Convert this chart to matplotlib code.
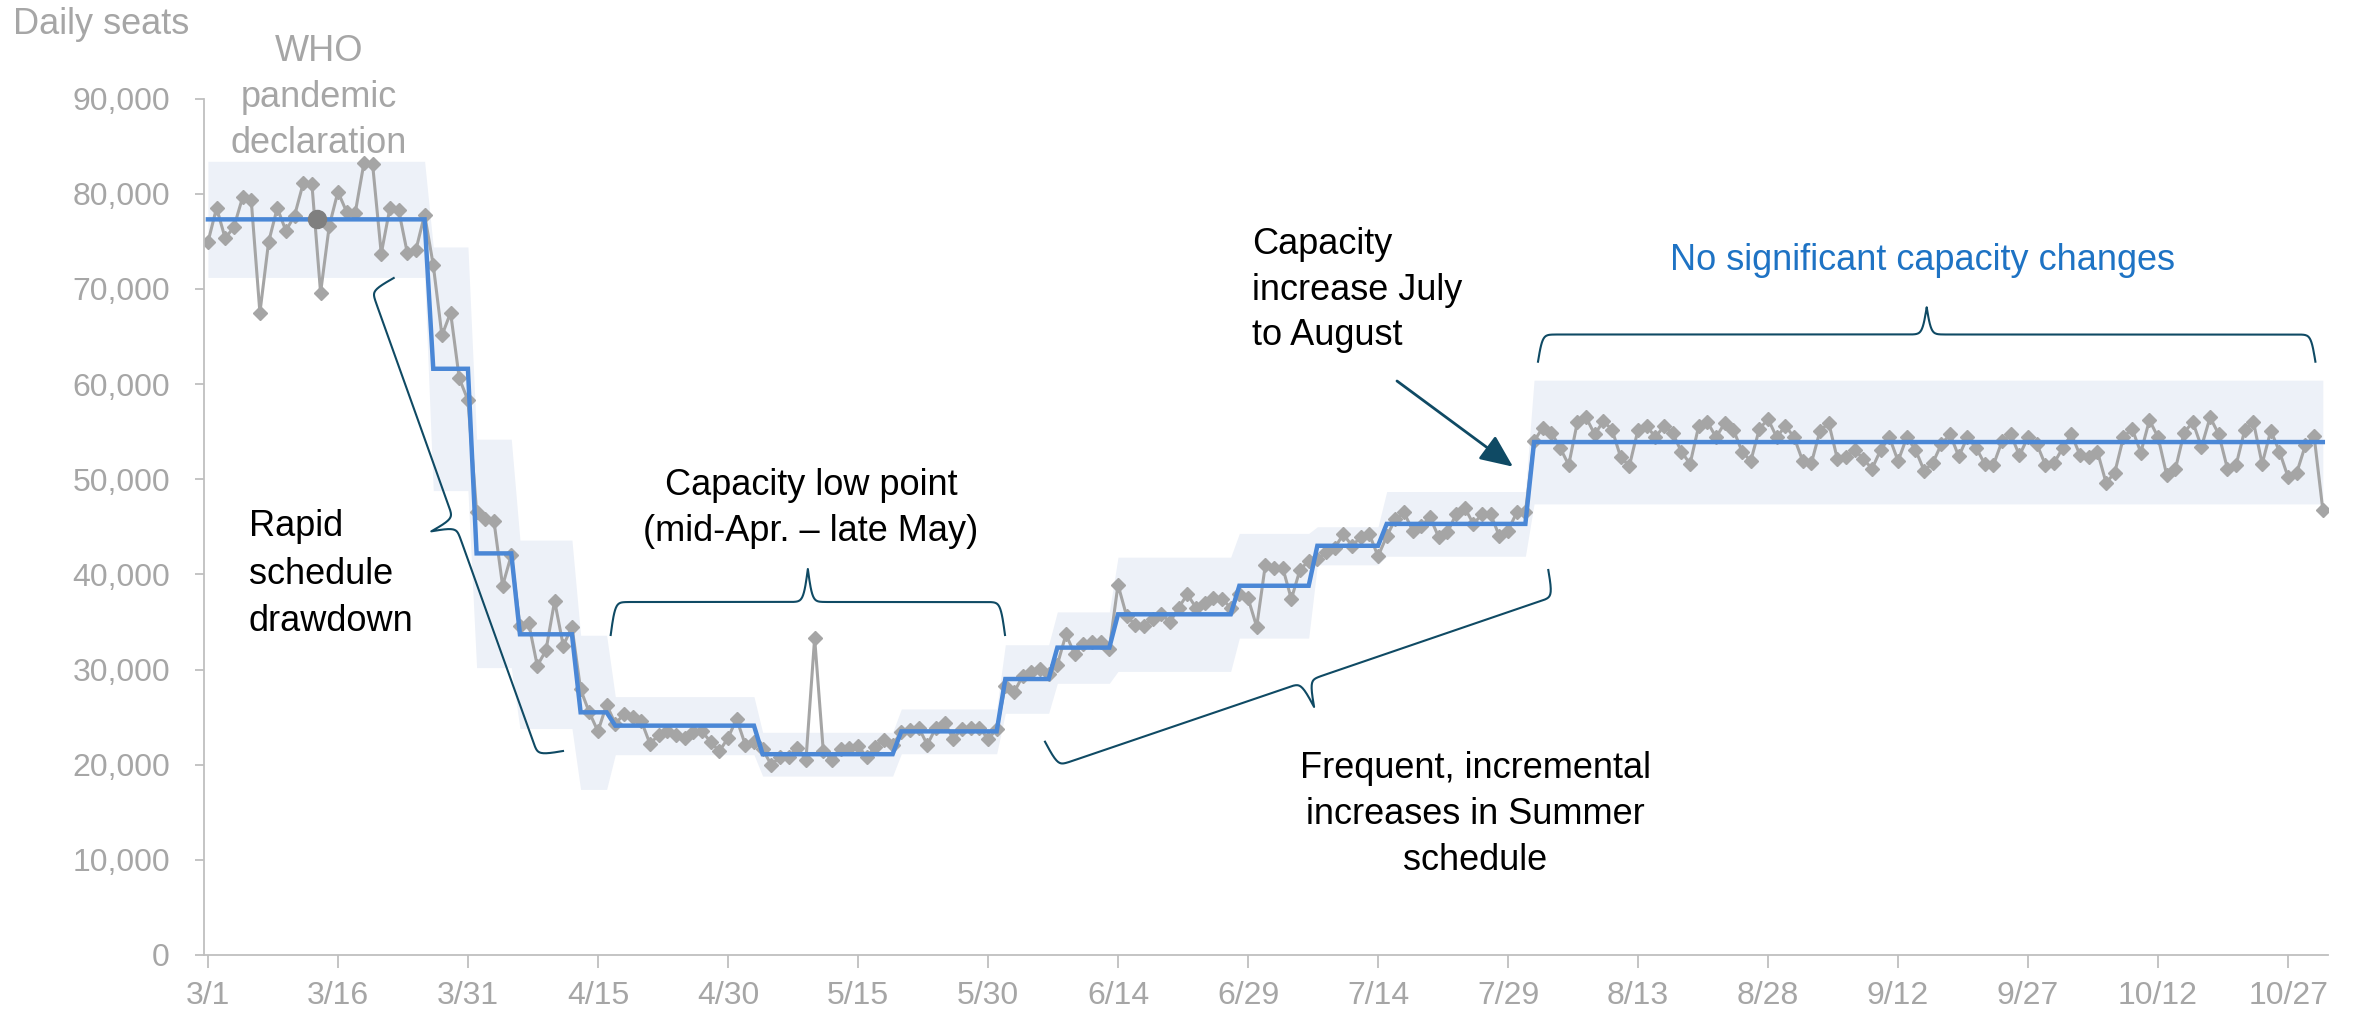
import numpy as np
import matplotlib.pyplot as plt
from matplotlib import font_manager
from matplotlib.lines import Line2D
from matplotlib.patches import FancyArrowPatch

# daily seats (thousands), 3/1 .. 10/31
seats_k = [
    74.9, 78.5, 75.3, 76.5, 79.6, 79.3, 67.5, 74.9, 78.5, 76.1,
    77.7, 81.1, 81.0, 69.6, 76.6, 80.2, 78.1, 78.0, 83.2, 83.1,
    73.7, 78.5, 78.3, 73.8, 74.1, 77.8, 72.5, 65.1, 67.5, 60.6,
    58.3, 46.6, 45.8, 45.6, 38.8, 42.0, 34.6, 34.9, 30.4, 32.0,
    37.2, 32.5, 34.5, 27.9, 25.5, 23.5, 26.3, 24.3, 25.3, 25.0,
    24.6, 22.2, 23.1, 23.5, 23.1, 22.8, 23.4, 23.5, 22.4, 21.4,
    22.8, 24.8, 22.1, 22.4, 21.6, 20.0, 20.8, 20.8, 21.8, 20.5,
    33.3, 21.4, 20.5, 21.6, 21.8, 22.0, 20.8, 21.9, 22.6, 22.1,
    23.4, 23.6, 23.9, 22.1, 23.9, 24.4, 22.7, 23.8, 23.9, 23.9,
    22.7, 23.7, 28.3, 27.6, 29.3, 29.7, 30.1, 29.5, 30.5, 33.7,
    31.6, 32.7, 32.9, 32.9, 32.2, 38.9, 35.6, 34.7, 34.6, 35.3,
    35.8, 35.0, 36.5, 37.9, 36.5, 37.0, 37.5, 37.4, 36.5, 37.9,
    37.5, 34.5, 41.0, 40.7, 40.7, 37.4, 40.5, 41.4, 41.6, 42.3,
    42.8, 44.2, 43.0, 43.9, 44.2, 41.9, 44.0, 45.8, 46.5, 44.6,
    45.1, 46.0, 43.9, 44.4, 46.3, 47.0, 45.3, 46.3, 46.3, 44.0,
    44.6, 46.5, 46.5, 54.0, 55.4, 54.9, 53.3, 51.5, 56.0, 56.5,
    54.7, 56.1, 55.2, 52.3, 51.4, 55.2, 55.6, 54.4, 55.6, 54.8,
    52.9, 51.6, 55.6, 56.0, 54.4, 55.9, 55.2, 52.9, 51.9, 55.3,
    56.3, 54.4, 55.6, 54.4, 51.9, 51.7, 55.1, 55.9, 52.1, 52.3,
    53.1, 52.1, 51.1, 53.1, 54.4, 51.9, 54.4, 53.1, 50.9, 51.7,
    53.7, 54.7, 52.4, 54.4, 53.3, 51.6, 51.5, 54.0, 54.7, 52.5,
    54.4, 53.7, 51.5, 51.7, 53.3, 54.7, 52.5, 52.3, 52.9, 49.6,
    50.7, 54.4, 55.3, 52.8, 56.2, 54.4, 50.4, 51.1, 54.9, 56.0,
    53.4, 56.5, 54.7, 51.1, 51.5, 55.2, 56.0, 51.6, 55.1, 52.9,
    50.2, 50.7, 53.6, 54.5, 46.8,
]

# schedule level: first day of each level, level and band half-width (thousands)
level_start = [0, 26, 31, 36, 43, 47, 64, 80, 92, 98, 105, 119, 128, 136, 153]
level_k = [77.3, 61.6, 42.2, 33.7, 25.5, 24.1, 21.1, 23.5, 29.0, 32.3, 35.8, 38.8, 43.0, 45.3, 53.9]
band_k = [6.1, 12.8, 12.0, 9.9, 8.1, 3.05, 2.3, 2.35, 3.6, 3.75, 6.0, 5.5, 2.0, 3.4, 6.5]

tick_days = list(range(0, 241, 15))
tick_labels = ['3/1', '3/16', '3/31', '4/15', '4/30', '5/15', '5/30', '6/14', '6/29',
               '7/14', '7/29', '8/13', '8/28', '9/12', '9/27', '10/12', '10/27']
who_day = 12.6

W, H = 2356, 1025
GRAY = '#A6A6A6'
TEAL = '#0F4A64'

names = {f.name for f in font_manager.fontManager.ttflist}
plt.rcParams['font.family'] = ['Liberation Sans', 'DejaVu Sans']
if 'Liberation Sans Narrow' in names:
    tick_font, tick_size = ['Liberation Sans Narrow', 'DejaVu Sans'], 27.4
else:
    tick_font, tick_size = ['Liberation Sans', 'DejaVu Sans'], 23

n = len(seats_k)
days = np.arange(n)
seats = np.array(seats_k) * 1000
lengths = np.diff(level_start + [n])
level = np.repeat(level_k, lengths) * 1000
half = np.repeat(band_k, lengths) * 1000


def fx(x, y):
    return x / W, 1 - y / H


fig = plt.figure(figsize=(W / 100, H / 100), dpi=100)
ax = fig.add_axes([204 / W, 1 - 955 / H, 2124 / W, (955 - 98.5) / H])

ax.fill_between(days, level - half, level + half, color='#EDF1F8', lw=0, zorder=1)
ax.plot(days, seats, color='#A5A5A5', lw=2.2, marker='D', ms=7.5, zorder=2)
ax.plot(days, level, color='#4A87D6', lw=3.2, zorder=3, solid_joinstyle='miter')
ax.plot([who_day], [level_k[0] * 1000], 'o', color='#7F7F7F', ms=13, zorder=4)

ax.set_xlim(-0.45, 244.6)
ax.set_ylim(0, 90000)
ax.set_xticks(tick_days)
ax.set_xticklabels(tick_labels)
ax.set_yticks(np.arange(0, 90001, 10000))
ax.set_yticklabels([f'{v:,}' for v in range(0, 90001, 10000)])
for s in ['top', 'right']:
    ax.spines[s].set_visible(False)
for s in ['left', 'bottom']:
    ax.spines[s].set_color('#BFBFBF')
    ax.spines[s].set_linewidth(1.3)
ax.tick_params(axis='x', colors='#BFBFBF', length=9, width=1.3, pad=10,
               labelcolor=GRAY)
ax.tick_params(axis='y', colors='#BFBFBF', length=6.5, width=1.3, pad=18,
               labelcolor=GRAY)
for lab in ax.get_xticklabels() + ax.get_yticklabels():
    lab.set_family(tick_font)
    lab.set_fontsize(tick_size)

# texts
fs = 26
fig.text(*fx(13, 24), 'Daily seats', color=GRAY, fontsize=fs, ha='left', va='center')
fig.text(*fx(319, 97.5), 'WHO\npandemic\ndeclaration', color=GRAY, fontsize=fs,
         ha='center', va='center', linespacing=1.4)
fig.text(*fx(249, 574), 'Rapid\nschedule\ndrawdown', fontsize=fs,
         ha='left', va='center', linespacing=1.45)
fig.text(*fx(811, 508.7), 'Capacity low point\n(mid-Apr. \u2013 late May)', fontsize=fs,
         ha='center', va='center', linespacing=1.4)
fig.text(*fx(1252, 290), 'Capacity\nincrease July\nto August', fontsize=fs,
         ha='left', va='center', linespacing=1.4)
fig.text(*fx(1923, 260), 'No significant capacity changes', color='#1E73C4',
         fontsize=fs, ha='center', va='center')
fig.text(*fx(1475.5, 814.4), 'Frequent, incremental\nincreases in Summer\nschedule',
         fontsize=fs, ha='center', va='center', linespacing=1.4)


def brace(p0, p1, depth, beta=0.45):
    p0 = np.array(p0, float)
    p1 = np.array(p1, float)
    v = p1 - p0
    L = np.hypot(*v)
    u = v / L
    nrm = np.array([u[1], -u[0]])
    t = np.linspace(0, L / 2, 500)
    h = 1 / (1 + np.exp(-beta * t)) + 1 / (1 + np.exp(-beta * (t - L / 2)))
    prof = np.concatenate([h, h[-2::-1]]) - 0.5
    s = np.concatenate([t, L - t[-2::-1]])
    pts = p0 + np.outer(s, u) + np.outer(prof * depth, nrm)
    fig.add_artist(Line2D(pts[:, 0] / W, 1 - pts[:, 1] / H, color=TEAL, lw=1.5,
                          transform=fig.transFigure))


brace((393.7, 278), (563, 751), -50)
brace((610.7, 635), (1005, 635), 66)
brace((1045, 741.7), (1548.3, 570), -54)
brace((1538, 361.7), (2315.4, 361.7), 54.4)

arrow = FancyArrowPatch(fx(1397, 381), fx(1513, 466.7), transform=fig.transFigure,
                        arrowstyle='-|>,head_length=0.5,head_width=0.22',
                        mutation_scale=40, color=TEAL, lw=2, shrinkA=0, shrinkB=0)
fig.add_artist(arrow)

fig.savefig('out.png', dpi=100)
